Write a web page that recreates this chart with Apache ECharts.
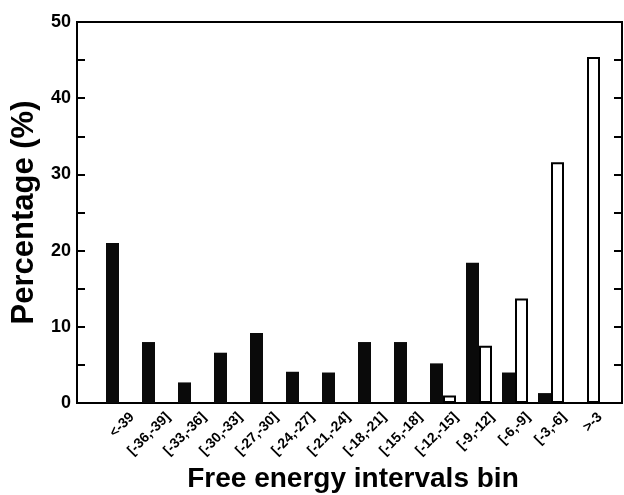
<!DOCTYPE html>
<html>
<head>
<meta charset="utf-8">
<script src="https://cdn.jsdelivr.net/npm/echarts@6/dist/echarts.min.js"></script>
<style>
  html, body { margin: 0; padding: 0; background: #fff; }
  #chart { width: 624px; height: 495px; }
</style>
</head>
<body>
<div id="chart"></div>
<script>
  // 自由能区间
  const categories = ['<-39', '[-36,-39]', '[-33,-36]', '[-30,-33]', '[-27,-30]', '[-24,-27]',
    '[-21,-24]', '[-18,-21]', '[-15,-18]', '[-12,-15]', '[-9,-12]', '[-6,-9]', '[-3,-6]', '>-3'];
  // 黑色柱
  const blackValues = [21.0, 8.0, 2.7, 6.6, 9.2, 4.1, 4.0, 8.0, 8.0, 5.2, 18.4, 4.0, 1.3, 0];
  // 白色柱
  const whiteValues = [0, 0, 0, 0, 0, 0, 0, 0, 0, 1.0, 7.5, 13.7, 31.6, 45.4];
  const yTicks = [0, 10, 20, 30, 40, 50];

  const font = '"Liberation Sans", Arial, Helvetica, sans-serif';
  const chart = echarts.init(document.getElementById('chart'));

  const tickStyle = {
    show: true, inside: true, length: 8,
    lineStyle: { color: '#000', width: 2 }
  };
  const minorStyle = {
    show: true, splitNumber: 2, length: 8,
    lineStyle: { color: '#000', width: 2 }
  };

  const option = {
    backgroundColor: '#fff',
    animation: false,
    grid: [
      { // 外框
        left: 77, right: 2, top: 22, bottom: 92, outerBoundsMode: 'none',
        show: true, borderColor: '#000', borderWidth: 2, backgroundColor: 'transparent'
      },
      { // 柱子
        left: 101, right: 19, top: 22, bottom: 92, outerBoundsMode: 'none'
      },
      { // 刻度文字 - 向右偏一点
        left: 114, right: 6, top: 22, bottom: 92, outerBoundsMode: 'none'
      }
    ],
    xAxis: [
      { type: 'value', gridIndex: 0, show: false, min: 0, max: 1 },
      {
        type: 'category', gridIndex: 1, data: categories,
        axisLine: { show: false }, axisTick: { show: false },
        axisLabel: { show: false },
        name: 'Free energy intervals bin', nameLocation: 'middle', nameGap: 62,
        nameTextStyle: { color: '#000', fontFamily: font, fontWeight: 'bold', fontSize: 28 }
      },
      {
        type: 'category', gridIndex: 2, data: categories,
        axisLine: { show: false }, axisTick: { show: false },
        axisLabel: {
          rotate: 45, interval: 0, margin: 12,
          color: '#000', fontFamily: font, fontWeight: 'bold', fontSize: 14
        }
      }
    ],
    yAxis: [
      {
        type: 'value', gridIndex: 0, position: 'left',
        min: yTicks[0], max: yTicks[yTicks.length - 1], interval: 10,
        axisLine: { show: true, lineStyle: { color: '#000', width: 2 } },
        axisTick: tickStyle, minorTick: minorStyle,
        splitLine: { show: false },
        axisLabel: { color: '#000', fontFamily: font, fontWeight: 'bold', fontSize: 18, margin: 6 },
        name: 'Percentage (%)', nameLocation: 'middle', nameGap: 33,
        nameTextStyle: { color: '#000', fontFamily: font, fontWeight: 'bold', fontSize: 31 }
      },
      {
        type: 'value', gridIndex: 0, position: 'right',
        min: 0, max: 50, interval: 10,
        axisLine: { show: true, lineStyle: { color: '#000', width: 2 } },
        axisTick: tickStyle, minorTick: minorStyle,
        splitLine: { show: false },
        axisLabel: { show: false }
      },
      { type: 'value', gridIndex: 1, min: 0, max: 50, show: false },
      { type: 'value', gridIndex: 2, min: 0, max: 50, show: false }
    ],
    series: [
      {
        type: 'bar', xAxisIndex: 1, yAxisIndex: 2,
        data: blackValues, barWidth: 13, barGap: '0%',
        itemStyle: { color: '#0a0a0a' }
      },
      {
        type: 'bar', xAxisIndex: 1, yAxisIndex: 2,
        data: whiteValues, barWidth: 13, barGap: '0%',
        itemStyle: { color: '#fff', borderColor: '#000', borderWidth: 2 }
      }
    ]
  };
  chart.setOption(option);
</script>
</body>
</html>
